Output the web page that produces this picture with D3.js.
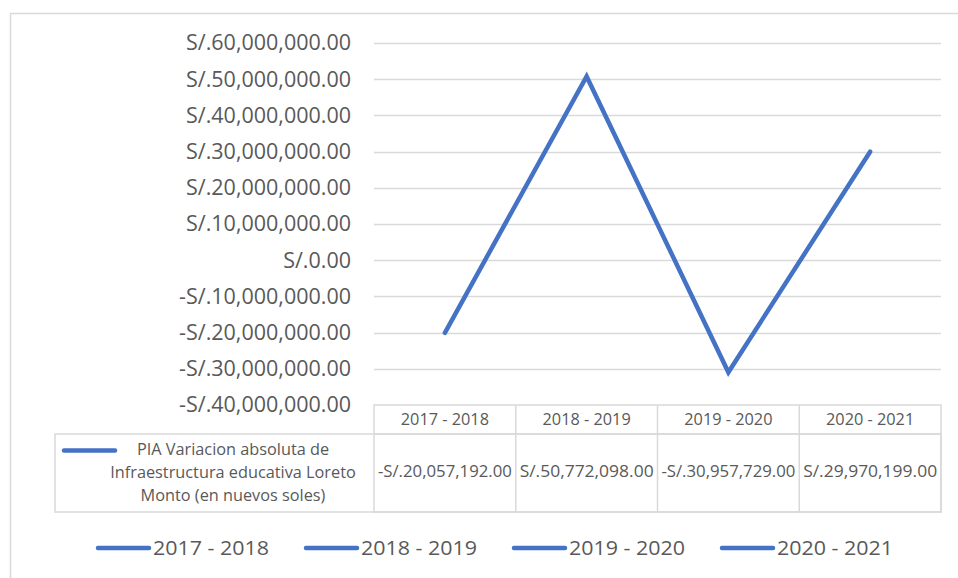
<!DOCTYPE html>
<html>
<head>
<meta charset="utf-8">
<script src="https://cdn.jsdelivr.net/npm/d3@7"></script>
<style>
  body { margin: 0; background: #fff; }
  svg { display: block; font-family: "Open Sans", sans-serif; }
</style>
</head>
<body>
<svg id="chart" width="958" height="578"></svg>
<script>
const categories = ["2017 - 2018", "2018 - 2019", "2019 - 2020", "2020 - 2021"];
const values = [-20057192, 50772098, -30957729, 29970199];
const yTicks = [-40e6, -30e6, -20e6, -10e6, 0, 10e6, 20e6, 30e6, 40e6, 50e6, 60e6];
const seriesName = ["PIA Variacion absoluta de", "Infraestructura educativa Loreto", "Monto (en nuevos soles)"];

const blue = "#4472C4";
const grid = "#d9d9d9";
const textCol = "#595959";

const plot = { left: 374, right: 941, top: 43, bottom: 405 };
const table = { headerBottom: 434, bottom: 512, legendLeft: 55 };

const svg = d3.select("#chart");

// outer chart border
svg.append("rect")
    .attr("x", 10.5).attr("y", 13.5)
    .attr("width", 990).attr("height", 600)
    .attr("fill", "none").attr("stroke", grid).attr("stroke-width", 1.5);

const x = d3.scaleBand().domain(categories).range([plot.left, plot.right]);
const y = d3.scaleLinear().domain([-40e6, 60e6]).range([plot.bottom, plot.top]);

const money = d3.format(",.2f");
const fmt = v => (v < 0 ? "-S/." : "S/.") + money(Math.abs(v));

// gridlines
svg.append("g")
    .selectAll("line")
    .data(yTicks.filter(t => t !== -40e6))
    .join("line")
    .attr("x1", plot.left).attr("x2", plot.right)
    .attr("y1", d => Math.round(y(d)) + 0.5).attr("y2", d => Math.round(y(d)) + 0.5)
    .attr("stroke", grid).attr("stroke-width", 1.3);

// y axis labels
const yAxis = d3.axisLeft(y).tickValues(yTicks).tickSize(0).tickPadding(0).tickFormat(fmt);
const ya = svg.append("g").attr("transform", "translate(351,0)").call(yAxis);
ya.select(".domain").remove();
ya.selectAll("text")
    .attr("fill", textCol)
    .style("font-size", "21.5px")
    .style("font-family", "'Open Sans', sans-serif");

// data table
const tg = svg.append("g").attr("stroke", grid).attr("stroke-width", 1.5).attr("fill", "none");
tg.append("rect")
    .attr("x", plot.left).attr("y", plot.bottom)
    .attr("width", plot.right - plot.left).attr("height", table.bottom - plot.bottom);
tg.append("rect")
    .attr("x", table.legendLeft).attr("y", table.headerBottom)
    .attr("width", plot.right - table.legendLeft).attr("height", table.bottom - table.headerBottom);
tg.selectAll("line.col")
    .data(categories.slice(1))
    .join("line")
    .attr("x1", d => x(d)).attr("x2", d => x(d))
    .attr("y1", plot.bottom).attr("y2", table.bottom);
tg.append("line")
    .attr("x1", plot.left).attr("x2", plot.right)
    .attr("y1", table.headerBottom).attr("y2", table.headerBottom);

svg.append("g")
    .selectAll("text")
    .data(categories)
    .join("text")
    .attr("x", d => x(d) + x.bandwidth() / 2)
    .attr("y", (plot.bottom + table.headerBottom) / 2)
    .attr("dy", "0.35em")
    .attr("text-anchor", "middle")
    .attr("fill", textCol)
    .style("font-size", "16.3px")
    .text(d => d);

svg.append("g")
    .selectAll("text")
    .data(values)
    .join("text")
    .attr("x", (d, i) => x(categories[i]) + x.bandwidth() / 2)
    .attr("y", (table.headerBottom + table.bottom) / 2 - 2)
    .attr("dy", "0.35em")
    .attr("text-anchor", "middle")
    .attr("fill", textCol)
    .attr("textLength", 134)
    .attr("lengthAdjust", "spacingAndGlyphs")
    .style("font-size", "16.3px")
    .text(fmt);

// series legend inside the table
svg.append("line")
    .attr("x1", 64).attr("x2", 115).attr("y1", 450.5).attr("y2", 450.5)
    .attr("stroke", blue).attr("stroke-width", 4.5).attr("stroke-linecap", "round");
svg.append("g")
    .selectAll("text")
    .data(seriesName)
    .join("text")
    .attr("x", 233)
    .attr("y", (d, i) => 449 + i * 23)
    .attr("dy", "0.35em")
    .attr("text-anchor", "middle")
    .attr("fill", textCol)
    .style("font-size", "16.3px")
    .text(d => d);

// the line
const line = d3.line()
    .x((d, i) => x(categories[i]) + x.bandwidth() / 2)
    .y(d => y(d));
svg.append("path")
    .datum(values)
    .attr("d", line)
    .attr("fill", "none")
    .attr("stroke", blue)
    .attr("stroke-width", 4.5)
    .attr("stroke-linecap", "round")
    .attr("stroke-linejoin", "miter");

// bottom legend
const legendX = [96, 304, 512, 720];
const lg = svg.append("g")
    .selectAll("g")
    .data(categories)
    .join("g")
    .attr("transform", (d, i) => `translate(${legendX[i]},548)`);
lg.append("line")
    .attr("x1", 2).attr("x2", 53)
    .attr("stroke", blue).attr("stroke-width", 4.5).attr("stroke-linecap", "round");
lg.append("text")
    .attr("x", 57)
    .attr("dy", "0.35em")
    .attr("fill", textCol)
    .attr("textLength", 116)
    .attr("lengthAdjust", "spacingAndGlyphs")
    .style("font-size", "20px")
    .text(d => d);
</script>
</body>
</html>
